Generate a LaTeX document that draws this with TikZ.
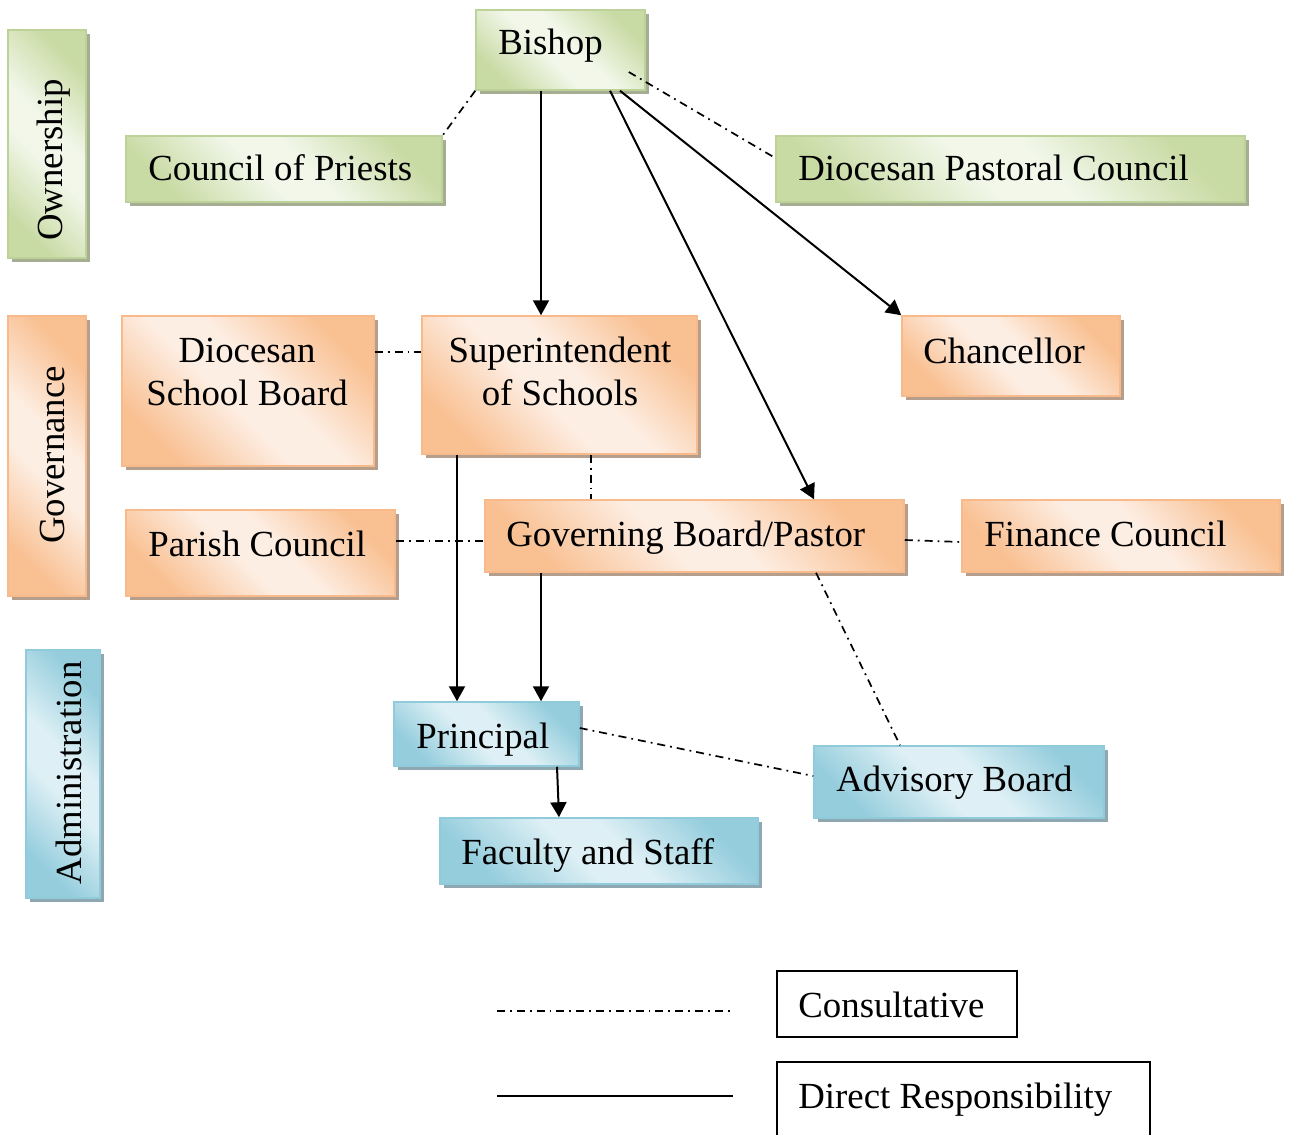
\documentclass[tikz,border=0pt]{standalone}
\usepackage{fontspec}
\setmainfont{Liberation Serif}
\usetikzlibrary{fit,shadows,arrows.meta}

\definecolor{gD}{HTML}{C9DBA5}
\definecolor{gL}{HTML}{F2F7EA}
\definecolor{gB}{HTML}{BDD298}
\definecolor{gS}{HTML}{A5AE93}
\definecolor{oD}{HTML}{F9C092}
\definecolor{oL}{HTML}{FDEEE3}
\definecolor{oB}{HTML}{F8BA8A}
\definecolor{oS}{HTML}{B59E8C}
\definecolor{bD}{HTML}{95CDDD}
\definecolor{bL}{HTML}{DEF0F5}
\definecolor{bB}{HTML}{8FCBDB}
\definecolor{bS}{HTML}{8FA7B0}

\pgfdeclarehorizontalshading{gsh}{100bp}{color(0bp)=(gD); color(25bp)=(gD); color(45bp)=(gL); color(55bp)=(gL); color(75bp)=(gD); color(100bp)=(gD)}
\pgfdeclarehorizontalshading{osh}{100bp}{color(0bp)=(oD); color(25bp)=(oD); color(45bp)=(oL); color(55bp)=(oL); color(75bp)=(oD); color(100bp)=(oD)}
\pgfdeclarehorizontalshading{bsh}{100bp}{color(0bp)=(bD); color(25bp)=(bD); color(45bp)=(bL); color(55bp)=(bL); color(75bp)=(bD); color(100bp)=(bD)}

\tikzset{
  boxbase/.style={inner sep=0pt, line width=0.75pt},
  gbox/.style={boxbase, draw=gB, shade, shading=gsh, shading angle=45,
    general shadow={fill=gS, shadow xshift=2pt, shadow yshift=-2pt}},
  obox/.style={boxbase, draw=oB, shade, shading=osh, shading angle=45,
    general shadow={fill=oS, shadow xshift=2pt, shadow yshift=-2pt}},
  bbox/.style={boxbase, draw=bB, shade, shading=bsh, shading angle=45,
    general shadow={fill=bS, shadow xshift=2pt, shadow yshift=-2pt}},
  lbl/.style={font=\fontsize{18.4}{21.5}\selectfont, inner sep=0pt, anchor=base west},
  clbl/.style={font=\fontsize{18.4}{21.5}\selectfont, inner sep=0pt, anchor=base, align=center},
  vlbl/.style={font=\fontsize{18.4}{21.5}\selectfont, inner sep=0pt, anchor=base, rotate=90},
  cons/.style={line width=0.85pt, dash pattern=on 4pt off 2.5pt on 0.9pt off 2.5pt},
  resp/.style={line width=1pt, -{Triangle[length=7.5pt,width=8pt]}},
  legbox/.style={draw=black, line width=1pt, fill=white, inner sep=0pt},
}

\begin{document}
\begin{tikzpicture}[x=0.5pt, y=-0.5pt]
\useasboundingbox (0,0) rectangle (1289,1134);

% Ownership level
\node[gbox, fit={(8,30)(86,258)}] (own) {};
\node[vlbl] (t-own) at (62,160) {Ownership};
\node[gbox, fit={(476,10)(645,90)}] (bishop) {};
\node[lbl] (t-bishop) at (498,55) {Bishop};
\node[gbox, fit={(126,136)(442,202)}] (cop) {};
\node[lbl] (t-cop) at (148,181) {Council of Priests};
\node[gbox, fit={(776,136)(1245,202)}] (dpc) {};
\node[lbl] (t-dpc) at (798,181) {Diocesan Pastoral Council};

% Governance level
\node[obox, fit={(8,316)(86,596)}] (govl) {};
\node[vlbl] (t-govl) at (64,455) {Governance};
\node[obox, fit={(122,316)(374,466)}] (dsb) {};
\node[clbl] (t-dsb) at (247,405) {Diocesan\\School Board};
\node[obox, fit={(422,316)(697,454)}] (sup) {};
\node[clbl] (t-sup) at (560,405) {Superintendent\\of Schools};
\node[obox, fit={(902,316)(1120,396)}] (chan) {};
\node[lbl] (t-chan) at (923,363) {Chancellor};
\node[obox, fit={(126,510)(395,596)}] (pc) {};
\node[lbl] (t-pc) at (148,556) {Parish Council};
\node[obox, fit={(485,500)(904,572)}] (gbp) {};
\node[lbl] (t-gbp) at (506,546) {Governing Board/Pastor};
\node[obox, fit={(962,500)(1280,572)}] (fin) {};
\node[lbl] (t-fin) at (984,546) {Finance Council};

% Administration level
\node[bbox, fit={(26,650)(100,898)}] (adm) {};
\node[vlbl] (t-adm) at (81,773) {Administration};
\node[bbox, fit={(394,702)(579,766)}] (prin) {};
\node[lbl] (t-prin) at (416,748) {Principal};
\node[bbox, fit={(814,746)(1104,818)}] (adv) {};
\node[lbl] (t-adv) at (836,791) {Advisory Board};
\node[bbox, fit={(440,818)(758,884)}] (fac) {};
\node[lbl] (t-fac) at (461,864) {Faculty and Staff};

% Direct responsibility
\draw[resp] (bishop.south -| 541,0) -- (sup.north -| 541,0);
\draw[resp] (bishop.south -| 620,0) -- (chan.north west);
\draw[resp] (bishop.south -| 610,0) -- (gbp.north -| 814,0);
\draw[resp] (sup.south -| 457,0) -- (prin.north -| 457,0);
\draw[resp] (gbp.south -| 541,0) -- (prin.north -| 541,0);
\draw[resp] (prin.south -| 557,0) -- (fac.north -| 559,0);

% Consultative
\draw[cons] (bishop.south west) -- (cop.north east);
\draw[cons] ([shift={(-17,22)}]bishop.east) -- ([shift={(0,-11)}]dpc.west);
\draw[cons] (dsb.east |- 0,352) -- (sup.west |- 0,352);
\draw[cons] (sup.south -| 591,0) -- (gbp.north -| 591,0);
\draw[cons] (pc.east |- 0,541) -- (gbp.west |- 0,541);
\draw[cons] (gbp.east |- 0,540) -- (fin.west |- 0,542);
\draw[cons] (gbp.south -| 816,0) -- (adv.north -| 900,0);
\draw[cons] (prin.east |- 0,728) -- (adv.west |- 0,776);

% Legend
\coordinate (lc1) at (497,1011);
\coordinate (lc2) at (733,1011);
\coordinate (lr1) at (497,1096);
\coordinate (lr2) at (733,1096);
\draw[cons] (lc1) -- (lc2);
\draw[line width=1pt] (lr1) -- (lr2);
\node[legbox, fit={(777,971)(1017,1037)}] (legc) {};
\node[lbl] (t-legc) at (798,1017) {Consultative};
\node[legbox, fit={(777,1062)(1150,1150)}] (legr) {};
\node[lbl] (t-legr) at (798,1108) {Direct Responsibility};
\end{tikzpicture}
\end{document}
